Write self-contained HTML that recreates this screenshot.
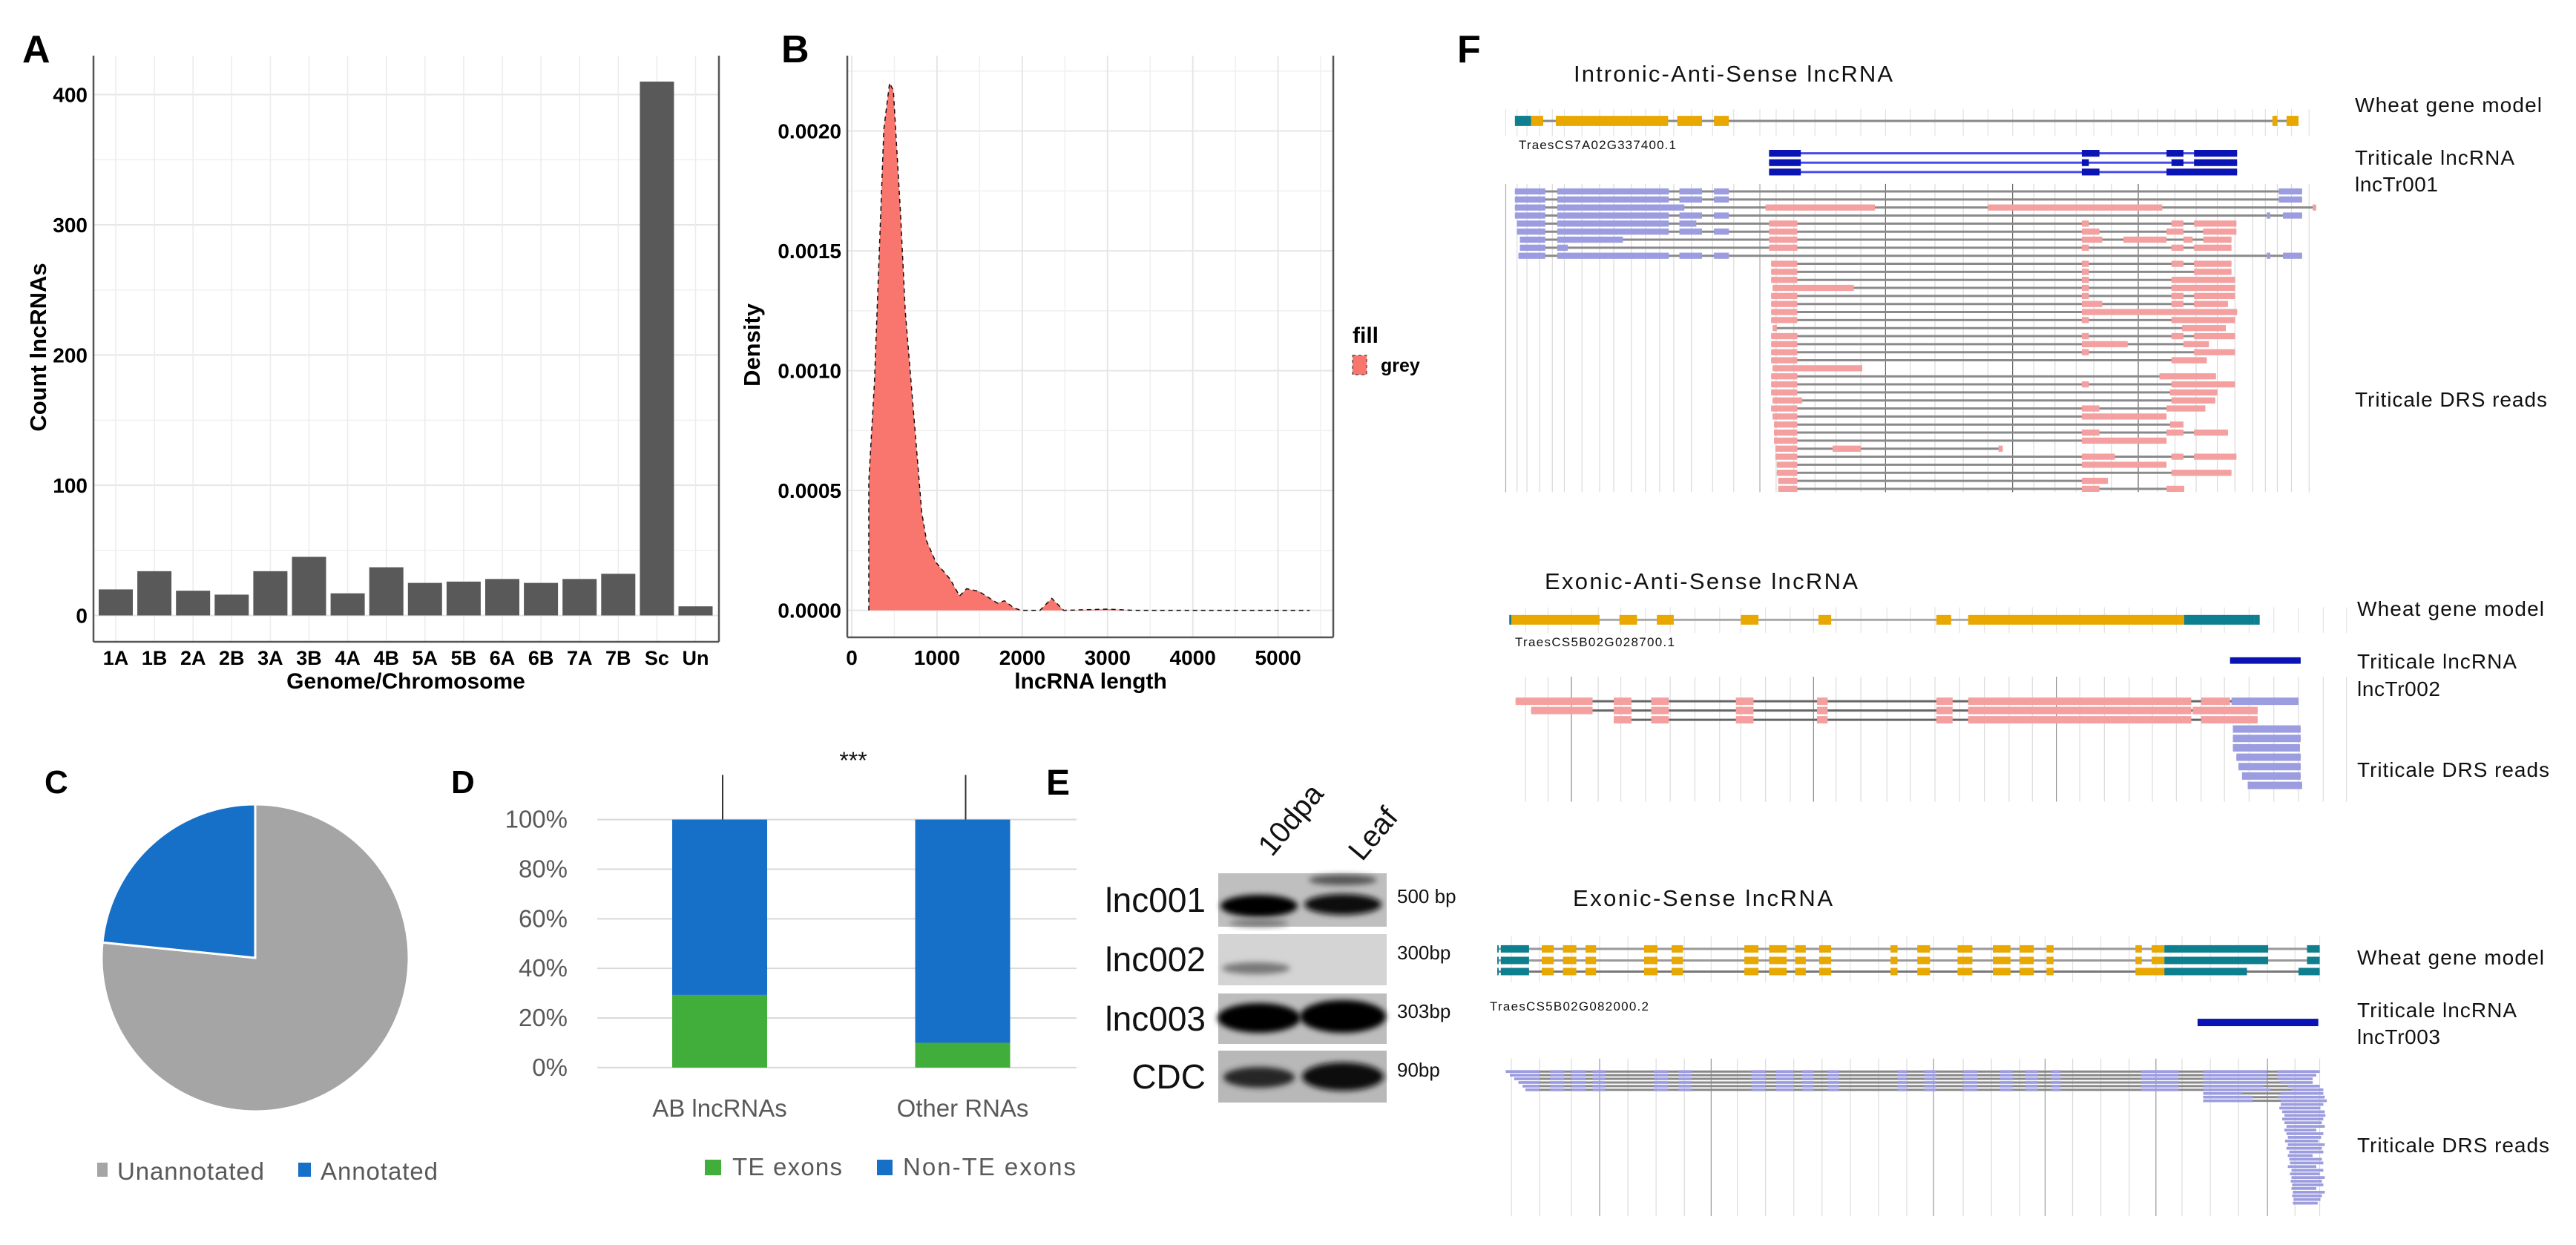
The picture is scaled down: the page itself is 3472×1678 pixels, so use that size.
<!DOCTYPE html>
<html><head><meta charset="utf-8"><style>
html,body{margin:0;padding:0;background:#fff;}
svg{display:block;}
.gg{font-family:"Liberation Sans",Arial,sans-serif;font-weight:bold;fill:#000;}
.xl{font-family:"Liberation Sans",Arial,sans-serif;fill:#595959;}
.fl{font-family:"Liberation Sans",Arial,sans-serif;fill:#111;}
</style></head><body>
<svg id="fig" xmlns="http://www.w3.org/2000/svg" width="3472" height="1678" viewBox="0 0 3472 1678">
<defs><filter id="blur" x="-30%" y="-60%" width="160%" height="220%"><feGaussianBlur stdDeviation="4"/></filter></defs>
<rect x="0" y="0" width="3472" height="1678" fill="#fff"/>
<text class="gg" x="30" y="84" font-size="52">A</text>
<text class="gg" x="1053" y="84" font-size="52">B</text>
<text class="gg" x="1964" y="84" font-size="52">F</text>
<text class="gg" x="60" y="1069" font-size="44">C</text>
<text class="gg" x="608" y="1069" font-size="44">D</text>
<text class="gg" x="1410" y="1071" font-size="48">E</text>
<text class="gg" x="547" y="928" font-size="30" text-anchor="middle">Genome/Chromosome</text>
<text class="gg" x="62" y="468" font-size="31" text-anchor="middle" transform="rotate(-90 62 468)">Count lncRNAs</text>
<text class="gg" x="1470" y="928" font-size="30" text-anchor="middle">lncRNA length</text>
<text class="gg" x="1024" y="465" font-size="31" text-anchor="middle" transform="rotate(-90 1024 465)">Density</text>
<text class="gg" x="1823" y="462" font-size="30">fill</text>
<rect x="1823" y="479" width="19" height="26" fill="#f8766d" stroke="#222" stroke-width="1" stroke-dasharray="4 4"/>
<text class="gg" x="1861" y="501" font-size="25">grey</text>
<rect x="131" y="1567" width="14" height="19" fill="#a5a5a5"/>
<text class="xl" x="158" y="1590" font-size="33" textLength="198">Unannotated</text>
<rect x="402" y="1567" width="17" height="19" fill="#1770c8"/>
<text class="xl" x="432" y="1590" font-size="33" textLength="158">Annotated</text>
<rect x="950" y="1563" width="22" height="21" fill="#41ad3a"/>
<text class="xl" x="987" y="1584" font-size="33" textLength="148">TE exons</text>
<rect x="1182" y="1563" width="21" height="21" fill="#1770c8"/>
<text class="xl" x="1217" y="1584" font-size="33" textLength="233">Non-TE exons</text>
<text class="fl" x="1150" y="1036" font-size="32" text-anchor="middle">***</text>
<text class="fl" x="1740" y="1118" font-size="40" text-anchor="middle" transform="rotate(-50 1740 1105)">10dpa</text>
<text class="fl" x="1851" y="1137" font-size="40" text-anchor="middle" transform="rotate(-50 1851 1124)">Leaf</text>
<text class="fl" x="1625" y="1229" font-size="46" text-anchor="end">lnc001</text>
<text class="fl" x="1625" y="1309" font-size="46" text-anchor="end">lnc002</text>
<text class="fl" x="1625" y="1389" font-size="46" text-anchor="end">lnc003</text>
<text class="fl" x="1625" y="1467" font-size="46" text-anchor="end">CDC</text>
<text class="fl" x="1883" y="1217" font-size="26">500 bp</text>
<text class="fl" x="1883" y="1293" font-size="26">300bp</text>
<text class="fl" x="1883" y="1372" font-size="26">303bp</text>
<text class="fl" x="1883" y="1451" font-size="26">90bp</text>
<text class="fl" x="2121" y="110" font-size="31" textLength="430">Intronic-Anti-Sense lncRNA</text>
<text class="fl" x="3174" y="151" font-size="28" textLength="252">Wheat gene model</text>
<text class="fl" x="2047" y="201" font-size="17" textLength="212">TraesCS7A02G337400.1</text>
<text class="fl" x="3174" y="222" font-size="28" textLength="215">Triticale lncRNA</text>
<text class="fl" x="3174" y="258" font-size="28" textLength="112">lncTr001</text>
<text class="fl" x="3174" y="548" font-size="28" textLength="259">Triticale DRS reads</text>
<text class="fl" x="2082" y="794" font-size="31" textLength="422">Exonic-Anti-Sense lncRNA</text>
<text class="fl" x="3177" y="830" font-size="28" textLength="252">Wheat gene model</text>
<text class="fl" x="2042" y="871" font-size="17" textLength="215">TraesCS5B02G028700.1</text>
<text class="fl" x="3177" y="901" font-size="28" textLength="215">Triticale lncRNA</text>
<text class="fl" x="3177" y="938" font-size="28" textLength="112">lncTr002</text>
<text class="fl" x="3177" y="1047" font-size="28" textLength="259">Triticale DRS reads</text>
<text class="fl" x="2120" y="1221" font-size="31" textLength="350">Exonic-Sense lncRNA</text>
<text class="fl" x="3177" y="1300" font-size="28" textLength="252">Wheat gene model</text>
<text class="fl" x="2008" y="1362" font-size="17" textLength="214">TraesCS5B02G082000.2</text>
<text class="fl" x="3177" y="1371" font-size="28" textLength="215">Triticale lncRNA</text>
<text class="fl" x="3177" y="1407" font-size="28" textLength="112">lncTr003</text>
<text class="fl" x="3177" y="1553" font-size="28" textLength="259">Triticale DRS reads</text>
</svg>
<script>
const chromCats = ['1A','1B','2A','2B','3A','3B','4A','4B','5A','5B','6A','6B','7A','7B','Sc','Un'];
const chromCounts = [20,34,19,16,34,45,17,37,25,26,28,25,28,32,410,7];
const countTicks = [0,100,200,300,400];
const lenX = [200,200,266,377,444,488,572,627,738,821,877,988,1154,1265,1348,1487,1709,1792,1903,1987,2208,2347,2486,3000,3300,5371];
const densY = [0,0.00054,0.00095,0.00201,0.0022,0.00217,0.00166,0.00125,0.00077,0.00041,0.00029,0.0002,0.00013,0.00006,0.00009,0.00008,0.00003,0.00004,0.00001,0,0,0.00005,0,0.000005,0,0];
const lenTicks = [0,1000,2000,3000,4000,5000];
const densTicks = [0,0.0005,0.001,0.0015,0.002];
const densTickLabels = ['0.0000','0.0005','0.0010','0.0015','0.0020'];
const pieLabels = ['Unannotated','Annotated'];
const pieValues = [76.6,23.4];
const teCats = ['AB lncRNAs','Other RNAs'];
const teExons = [29.3,10];
const nonTeExons = [70.7,90];
const errTop = [118,118];
const pctTicks = [0,20,40,60,80,100];

const NS='http://www.w3.org/2000/svg';
const svg=document.getElementById('fig');
function mk(tag,parent){const e=document.createElementNS(NS,tag);(parent||svg).appendChild(e);return e;}
function at(e,o){for(const k in o)e.setAttribute(k,o[k]);return e;}

const xA=i=>156+i*52.1, yA=v=>829.5-v*1.755;
const gA=mk('g');  
for(let v=50;v<=350;v+=100){const l=at(mk('line',gA),{x1:126,x2:969,y1:yA(v),y2:yA(v),stroke:'#f0f0f0','stroke-width':1.5});}
countTicks.forEach(v=>{const l=at(mk('line',gA),{x1:126,x2:969,y1:yA(v),y2:yA(v),stroke:'#e6e6e6','stroke-width':2});
 const t=at(mk('text',gA),{x:118,y:yA(v)+10,'font-size':28,'text-anchor':'end',class:'gg'});t.textContent=v;});
chromCats.forEach((c,i)=>{const l=at(mk('line',gA),{x1:xA(i),x2:xA(i),y1:75,y2:865,stroke:'#ececec','stroke-width':1.5});});
chromCats.forEach((c,i)=>{const r=at(mk('rect',gA),{x:xA(i)-23,y:yA(chromCounts[i]),width:46,height:yA(0)-yA(chromCounts[i]),fill:'#595959'});
 const t=at(mk('text',gA),{x:xA(i),y:896,'font-size':27,'text-anchor':'middle',class:'gg'});t.textContent=c;});
[[126,75,126,865],[126,865,969,865],[969,75,969,865]].forEach(p=>{const l=at(mk('line',gA),{x1:p[0],y1:p[1],x2:p[2],y2:p[3],stroke:'#555','stroke-width':2.5});});

const xB=v=>1148+v*0.11492, yB=v=>822.6-v*323000;
const gB=mk('g');  
for(let v=0.00025;v<0.0023;v+=0.0005){const l=at(mk('line',gB),{x1:1142,x2:1797,y1:yB(v),y2:yB(v),stroke:'#f0f0f0','stroke-width':1.5});}
for(let v=500;v<5600;v+=1000){const l=at(mk('line',gB),{x1:xB(v),x2:xB(v),y1:75,y2:859,stroke:'#f0f0f0','stroke-width':1.5});}
densTicks.forEach((v,i)=>{const l=at(mk('line',gB),{x1:1142,x2:1797,y1:yB(v),y2:yB(v),stroke:'#e6e6e6','stroke-width':2});
 const t=at(mk('text',gB),{x:1134,y:yB(v)+10,'font-size':28,'text-anchor':'end',class:'gg'});t.textContent=densTickLabels[i];});
lenTicks.forEach(v=>{const l=at(mk('line',gB),{x1:xB(v),x2:xB(v),y1:75,y2:859,stroke:'#e6e6e6','stroke-width':2});
 const t=at(mk('text',gB),{x:xB(v),y:896,'font-size':28,'text-anchor':'middle',class:'gg'});t.textContent=v;});
let dpts=lenX.map((x,i)=>xB(x).toFixed(1)+','+yB(densY[i]).toFixed(1));
const area=at(mk('polygon',gB),{points:dpts.join(' ')+' '+xB(lenX[lenX.length-1]).toFixed(1)+','+yB(0)+' '+xB(lenX[0])+','+yB(0),fill:'#f8766d'});

const dl=at(mk('polyline',gB),{points:dpts.join(' '),fill:'none',stroke:'#111','stroke-width':1.5,'stroke-dasharray':'6 5'});

[[1142,75,1142,859],[1142,859,1797,859],[1797,75,1797,859]].forEach(p=>{const l=at(mk('line',gB),{x1:p[0],y1:p[1],x2:p[2],y2:p[3],stroke:'#555','stroke-width':2.5});});

const cx=344, cy=1291, R=207; const pieColors=['#a5a5a5','#1770c8'];
let tot=pieValues.reduce((a,b)=>a+b,0), ang=0;
pieValues.forEach((v,i)=>{const a0=ang, a1=ang+v/tot*2*Math.PI; ang=a1;
 const p0=[cx+R*Math.sin(a0),cy-R*Math.cos(a0)], p1=[cx+R*Math.sin(a1),cy-R*Math.cos(a1)];
 const big=(a1-a0)>Math.PI?1:0;
 const s=at(mk('path'),{d:`M${cx},${cy} L${p0[0]},${p0[1]} A${R},${R} 0 ${big} 1 ${p1[0]},${p1[1]} Z`,fill:pieColors[i],stroke:'#fff','stroke-width':3});
 });

const yD=v=>1438.9-v*3.343, xD=i=>970+i*327.5;
const gD=mk('g');  
pctTicks.forEach(v=>{const l=at(mk('line',gD),{x1:805,x2:1451,y1:yD(v),y2:yD(v),stroke:'#d9d9d9','stroke-width':2});
 const t=at(mk('text',gD),{x:765,y:yD(v)+11,'font-size':33,'text-anchor':'end',class:'xl'});t.textContent=v+'%';});
teCats.forEach((c,i)=>{
 const g=at(mk('rect',gD),{x:xD(i)-64,y:yD(teExons[i]),width:128,height:yD(0)-yD(teExons[i]),fill:'#41ad3a'});
 const b=at(mk('rect',gD),{x:xD(i)-64,y:yD(teExons[i]+nonTeExons[i]),width:128,height:yD(teExons[i])-yD(teExons[i]+nonTeExons[i]),fill:'#1770c8'});
 const e=at(mk('line',gD),{x1:xD(i)+4,x2:xD(i)+4,y1:yD(teExons[i]+nonTeExons[i]),y2:yD(errTop[i]),stroke:'#333','stroke-width':2});
 const t=at(mk('text',gD),{x:xD(i),y:1505,'font-size':33,'text-anchor':'middle',class:'xl'});t.textContent=c;});

const gelRows=[[1177,1249,'#bfbfbf'],[1259,1328,'#d4d4d4'],[1339,1407,'#bdbdbd'],[1416,1486,'#b8b8b8']];
const gelBands=[[0,1697,1221,52,15,'#050505'],[0,1697,1244,40,5,'#777'],[0,1810,1219,52,14,'#080808'],[0,1810,1186,46,7,'#555'],
 [1,1693,1305,46,8,'#777'],[2,1697,1372,56,20,'#000'],[2,1810,1370,58,22,'#000'],[3,1697,1452,48,14,'#262626'],[3,1810,1451,55,19,'#111']];
const gE=mk('g');  
gelRows.forEach(r=>{const b=at(mk('rect',gE),{x:1642,y:r[0],width:227,height:r[1]-r[0],fill:r[2]});});
gelBands.forEach(b=>{const e=at(mk('ellipse',gE),{cx:b[1],cy:b[2],rx:b[3],ry:b[4],fill:b[5],filter:'url(#blur)'});});

const LAV='#9c9ce0', PINK='#f4a0a0', ORG='#e9a800', TEAL='#0e7f8f', NAVY='#0a14b4';
function grp(tx,ty,sx,sy,name){const g=at(mk('g'),{transform:`translate(${tx},${ty}) scale(${sx},${sy})`});return g;}
function vline(g,x,y1,y2,c){const l=at(mk('line',g),{x1:x,x2:x,y1:y1,y2:y2,stroke:c,'stroke-width':1.2,'vector-effect':'non-scaling-stroke'});}
function hline(g,x1,x2,y,c,w){const l=at(mk('line',g),{x1:x1,x2:x2,y1:y,y2:y,stroke:c,'stroke-width':w,'vector-effect':'non-scaling-stroke'});}
function block(g,x1,x2,y,h,c,name){const r=at(mk('rect',g),{x:x1,y:y-h/2,width:x2-x1,height:h,fill:c});}
function row(g,spec,y,h,lineC,name){const bl=spec.split(',').map(s=>{const m=s.match(/(\d+)-(\d+)([lpotn])/);return [+m[1],+m[2],m[3]];});
 const mn=Math.min(...bl.map(b=>b[0])), mx=Math.max(...bl.map(b=>b[1]));
 hline(g,mn,mx,y,lineC,3);
 bl.forEach(b=>block(g,b[0],b[1],y,h,{l:LAV,p:PINK,o:ORG,t:TEAL,n:NAVY}[b[2]],name));}

const topV=[52,68,82,100,118,135,160,185,205,230,250,270,290,315,345,375,412,435,460,490,520,555,590,625,660,700,735,770,800,830,860,885,910,948,975,1000,1030,1060,1085,1110,1128,1145,1165,1190];
const topDark=[590,770,948];
const g1=grp(1980,0,0.9515,0.4591,'track-intronic-anti-sense');
topV.forEach(x=>{vline(g1,x,320,400,'#e2e2e2');vline(g1,x,540,1445,topDark.includes(x)?'#666':(x===412||x===52?'#aaa':'#dadada'));});
row(g1,'65-88t,88-105o,123-282o,295-330o,347-368o,1138-1145o,1158-1175o',355,30,'#888','gene-exon');
const topLnc=['425-470n,868-893n,988-1012n,1027-1088n','425-470n,868-878n,995-1012n,1027-1088n','425-470n,868-893n,988-1088n'];
topLnc.forEach((s,i)=>row(g1,s,450+i*27.5,20,'#4a4ae6','lncrna-exon'));
const topReads=[
'65-108l,125-283l,298-330l,347-368l,1147-1180l','65-108l,125-283l,298-330l,347-368l,1147-1180l',
'65-108l,125-305l,420-575p,735-982p,1195-1200p','65-108l,125-283l,298-330l,347-368l,1130-1135l,1153-1180l',
'68-108l,125-283l,298-322l,425-465p,868-878p,995-1012p,1027-1087p','68-108l,125-283l,298-330l,347-368l,425-465p,868-893p,988-1012p,1040-1087p',
'72-108l,125-218l,425-465p,868-897p,927-988p,1012-1025p,1040-1080p','72-108l,125-140l,425-465p,868-878p,995-1012p,1027-1080p',
'70-108l,125-283l,298-330l,347-368l,1130-1135l,1153-1180l',
'428-465p,868-878p,995-1012p,1027-1080p','428-465p,868-878p,1027-1080p','428-465p,868-878p,995-1085p',
'430-545p,868-878p,995-1085p','428-465p,868-878p,995-1012p,1027-1085p','428-465p,868-897p,995-1012p,1027-1075p',
'428-465p,868-1088p','428-465p,868-878p,995-1085p','430-436p,1010-1072p','428-465p,868-878p,995-1012p,1027-1085p',
'428-465p,868-933p,1012-1048p','428-465p,868-878p,1027-1085p','428-465p,995-1045p','430-557p','428-465p,978-1058p',
'428-465p,868-878p,995-1085p','428-465p,993-1060p','430-472p,995-1057p','428-465p,868-893p,988-1043p','430-465p,868-988p',
'432-465p,993-1012p','432-465p,868-893p,988-1012p,1027-1075p','432-465p,868-988p','434-465p,515-555p,750-756p',
'434-465p,868-915p,995-1012p,1027-1087p','436-465p,868-988p','436-465p,995-1080p','438-465p,868-905p','438-465p,868-893p,988-1013p'];
topReads.forEach((s,i)=>row(g1,s,562+i*23.6,18,'#8a8a8a','read-exon'));

const midV=[80,112,145,183,215,250,285,320,355,385,420,455,488,520,555,592,625,660,695,730,765,798,832,865,900,935,968,1002,1037,1070,1105,1140,1175,1210,1243];
const midDark=[145,488,832];
const g2=grp(1980,700,0.9515,0.6238,'track-exonic-anti-sense');
midV.forEach(x=>{vline(g2,x,190,245,'#e4e4e4');vline(g2,x,340,610,midDark.includes(x)?'#888':'#dcdcdc');});
row(g2,'57-60t,60-185o,213-238o,266-290o,385-410o,495-513o,662-683o,707-1013o,1013-1112t,1112-1120t',217,21,'#aaa','gene-exon');
row(g2,'1078-1178n',305,14,'#4a4ae6','lncrna-exon');
const midReads=['66-175p,205-230p,258-283p,378-403p,493-508p,662-685p,707-1023p,1037-1078p,1080-1175l',
'88-175p,205-230p,258-283p,378-403p,493-508p,662-685p,707-1023p,1025-1117p',
'205-230p,258-283p,378-403p,493-508p,662-685p,707-1023p,1037-1117p',
'1082-1178l','1082-1178l','1082-1177l','1087-1178l','1090-1178l','1095-1178l','1103-1180l'];
midReads.forEach((s,i)=>row(g2,s,i<3?393+i*20:453+(i-3)*20.3,16,'#666','read-exon'));

const botV=[60,100,145,185,225,265,305,343,380,420,460,500,540,580,620,658,700,740,780,816,855,895,935,973,1010,1050,1090,1131,1170,1205];
const botDark=[185,343,658,816,973,1131];
const g3=mk('g');at(g3,{transform:'translate(1980,700) scale(0.9515,0.6238)'});
botV.forEach(x=>{vline(g3,x,900,1000,'#e4e4e4');vline(g3,x,1165,1505,botDark.includes(x)?'#999':'#dcdcdc');});
const orangeBot='103-120o,133-152o,165-180o,248-267o,287-303o,390-410o,425-450o,462-477o,496-513o,597-607o,635-653o,692-713o,742-767o,780-800o,818-828o';
row(g3,'40-42t,45-85t,'+orangeBot+',944-953o,967-985o,985-1132t,1187-1205t',928,16,'#999','gene-exon');
row(g3,'40-42t,45-85t,'+orangeBot+',944-953o,967-985o,985-1132t,1187-1205t',953,16,'#999','gene-exon');
row(g3,'40-42t,45-85t,'+orangeBot+',944-985o,985-1102t,1175-1205t',977,16,'#777','gene-exon');
row(g3,'1032-1203n',1087,16,'#4a4ae6','lncrna-exon');
const lavBot='115-135l,145-165l,175-193l,262-282l,297-315l,400-420l,435-460l,472-488l,508-524l,607-620l,645-662l,700-720l,752-770l,788-806l,825-838l,952-1005l';
const botReads=['52-100l,'+lavBot+',1040-1130l,1145-1205l','58-100l,'+lavBot+',1040-1130l,1145-1200l','64-100l,'+lavBot+',1040-1130l,1145-1195l',
'70-100l,'+lavBot+',1040-1130l,1150-1195l','76-100l,'+lavBot+',1040-1125l,1160-1205l','80-100l,'+lavBot+',1040-1135l,1165-1210l',
'1040-1095l,1150-1210l','1040-1110l,1145-1212l','1040-1110l,1150-1215l','1150-1210l','1148-1206l','1152-1212l','1155-1213l','1152-1210l',
'1155-1208l','1158-1212l','1155-1200l','1158-1210l','1160-1207l','1156-1203l','1160-1212l','1158-1208l','1162-1210l','1160-1195l',
'1162-1208l','1163-1210l','1160-1200l','1165-1210l','1163-1205l','1165-1212l','1164-1208l','1166-1210l','1165-1200l','1167-1212l',
'1166-1208l','1168-1206l','1167-1202l'];
botReads.forEach((s,i)=>row(g3,s,1193+i*7.9,6,'#888','read-exon'));
</script>
</body></html>
